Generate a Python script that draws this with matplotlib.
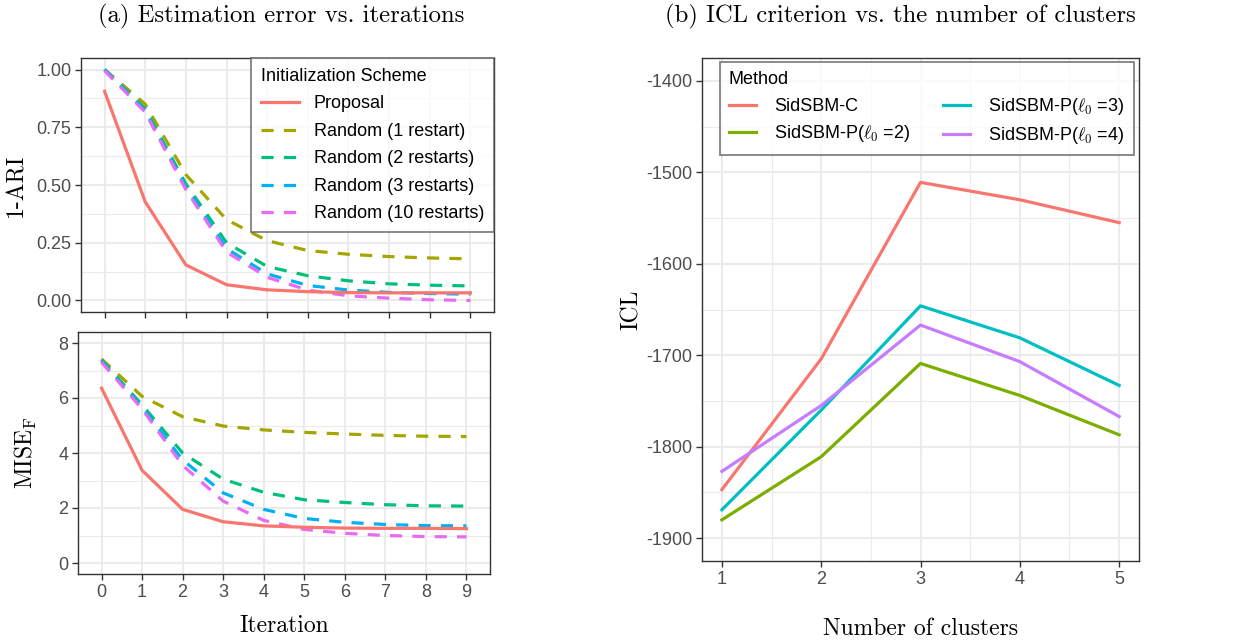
import matplotlib
matplotlib.use("Agg")
import matplotlib.pyplot as plt
import numpy as np

plt.rcParams["font.family"] = ["Liberation Sans", "DejaVu Sans"]
plt.rcParams["mathtext.fontset"] = "cm"
plt.rcParams["axes.unicode_minus"] = False

# ---- data: estimation error vs. iterations ----
iterations = [0, 1, 2, 3, 4, 5, 6, 7, 8, 9]
schemes = ["Proposal", "Random (1 restart)", "Random (2 restarts)",
           "Random (3 restarts)", "Random (10 restarts)"]
ari_err = {
    "Proposal":             [0.906, 0.427, 0.154, 0.068, 0.046, 0.038, 0.034, 0.033, 0.033, 0.033],
    "Random (1 restart)":   [1.000, 0.850, 0.545, 0.350, 0.259, 0.216, 0.200, 0.190, 0.184, 0.180],
    "Random (2 restarts)":  [1.000, 0.830, 0.505, 0.250, 0.147, 0.107, 0.085, 0.072, 0.066, 0.063],
    "Random (3 restarts)":  [1.000, 0.820, 0.490, 0.225, 0.115, 0.065, 0.045, 0.035, 0.030, 0.027],
    "Random (10 restarts)": [0.995, 0.815, 0.480, 0.210, 0.100, 0.045, 0.020, 0.010, 0.003, 0.000],
}
mise_err = {
    "Proposal":             [6.36, 3.37, 1.95, 1.50, 1.35, 1.30, 1.27, 1.26, 1.26, 1.25],
    "Random (1 restart)":   [7.42, 6.06, 5.32, 4.98, 4.84, 4.75, 4.69, 4.64, 4.61, 4.60],
    "Random (2 restarts)":  [7.38, 5.75, 4.00, 3.05, 2.57, 2.30, 2.20, 2.12, 2.08, 2.07],
    "Random (3 restarts)":  [7.35, 5.65, 3.75, 2.55, 1.95, 1.62, 1.48, 1.40, 1.36, 1.35],
    "Random (10 restarts)": [7.30, 5.60, 3.55, 2.25, 1.55, 1.22, 1.08, 1.00, 0.96, 0.95],
}
scheme_colors = ["#F8766D", "#A3A500", "#00BF7D", "#00B0F6", "#E76BF3"]

# ---- data: ICL vs. number of clusters ----
clusters = [1, 2, 3, 4, 5]
methods = ["SidSBM-C", r"SidSBM-P($\ell_0$ =2)", r"SidSBM-P($\ell_0$ =3)", r"SidSBM-P($\ell_0$ =4)"]
icl = {
    methods[0]: [-1847, -1704, -1511, -1530, -1555],
    methods[1]: [-1880, -1811, -1709, -1744, -1787],
    methods[2]: [-1869, -1760, -1646, -1681, -1733],
    methods[3]: [-1827, -1755, -1667, -1707, -1767],
}
method_colors = ["#F8766D", "#7CAE00", "#00BFC4", "#C77CFF"]

TICK_FS = 13
SERIF = "cmr10"
LW = 2.3


def theme_bw(ax, xmajor, xminor, ymajor, yminor):
    ax.set_facecolor("white")
    for s in ax.spines.values():
        s.set_color("#333333")
        s.set_linewidth(1.0)
    ax.set_xticks(xmajor)
    ax.set_xticks(xminor, minor=True)
    ax.set_yticks(ymajor)
    ax.set_yticks(yminor, minor=True)
    ax.grid(which="major", color="#EBEBEB", linewidth=1.5)
    ax.grid(which="minor", color="#EBEBEB", linewidth=0.8)
    ax.set_axisbelow(True)
    ax.tick_params(which="major", direction="out", length=4, width=1.0,
                   color="#333333", labelcolor="#4D4D4D", labelsize=TICK_FS, pad=3)
    ax.tick_params(which="minor", length=0)


fig = plt.figure(figsize=(12.43, 6.4), dpi=100)

ax1 = fig.add_axes([81 / 1243, 1 - 312 / 640, 413 / 1243, 254 / 640])
ax2 = fig.add_axes([78 / 1243, 1 - 574 / 640, 412 / 1243, 242 / 640])
ax3 = fig.add_axes([702 / 1243, 1 - 561 / 640, 437 / 1243, 503 / 640])

# 1-ARI panel
for name, c in zip(schemes, scheme_colors):
    if name == "Proposal":
        ax1.plot(iterations, ari_err[name], color=c, lw=LW, label=name, zorder=3)
    else:
        ax1.plot(iterations, ari_err[name], color=c, lw=LW, dashes=(3.8, 3.2), label=name)
theme_bw(ax1, iterations, [], [0, 0.25, 0.5, 0.75, 1.0], [0.125, 0.375, 0.625, 0.875])
ax1.set_xlim(-0.58, 9.58)
ax1.set_ylim(-0.05, 1.05)
ax1.set_yticklabels(["0.00", "0.25", "0.50", "0.75", "1.00"])
ax1.set_xticklabels([])
ax1.set_ylabel("1-ARI", family=SERIF, fontsize=17, labelpad=6)
leg1 = ax1.legend(title="Initialization Scheme", loc="upper right", bbox_to_anchor=(1.0, 1.0),
                  borderaxespad=0, fontsize=13, title_fontsize=13, handlelength=2.1,
                  labelspacing=0.58, handletextpad=0.8, borderpad=0.55,
                  fancybox=False, edgecolor="#555555", alignment="left")
leg1.get_frame().set_linewidth(1.2)
leg1.set_zorder(5)

# MISE panel
for name, c in zip(schemes, scheme_colors):
    if name == "Proposal":
        ax2.plot(iterations, mise_err[name], color=c, lw=LW, zorder=3)
    else:
        ax2.plot(iterations, mise_err[name], color=c, lw=LW, dashes=(3.8, 3.2))
theme_bw(ax2, iterations, [], [0, 2, 4, 6, 8], [1, 3, 5, 7])
ax2.set_xlim(-0.58, 9.58)
ax2.set_ylim(-0.4, 8.4)
ax2.set_xticklabels([str(i) for i in iterations])
ax2.set_ylabel(r"$\mathrm{MISE}_\mathrm{F}$", fontsize=17, labelpad=14)
ax2.set_xlabel("Iteration", family=SERIF, fontsize=17, labelpad=10)

# ICL panel
for name, c in zip(methods, method_colors):
    ax3.plot(clusters, icl[name], color=c, lw=LW, label=name)
theme_bw(ax3, clusters, [1.5, 2.5, 3.5, 4.5],
         [-1900, -1800, -1700, -1600, -1500, -1400],
         [-1850, -1750, -1650, -1550, -1450])
ax3.set_xlim(0.8, 5.2)
ax3.set_ylim(-1925, -1375)
ax3.set_yticklabels(["-1900", "-1800", "-1700", "-1600", "-1500", "-1400"])
ax3.set_ylabel("ICL", family=SERIF, fontsize=17, labelpad=2)
ax3.set_xlabel("Number of clusters", family=SERIF, fontsize=17, labelpad=22)
leg3 = ax3.legend(title="Method", loc="upper left", bbox_to_anchor=(0.041, 0.992),
                  borderaxespad=0, ncol=2, fontsize=13, title_fontsize=13,
                  handlelength=1.5, columnspacing=1.8, labelspacing=0.45,
                  handletextpad=1.0, borderpad=0.5, fancybox=False,
                  edgecolor="#555555", alignment="left")
leg3.get_frame().set_linewidth(1.2)

fig.text(281 / 1243, 1 - 16 / 640, "(a) Estimation error vs. iterations",
         family=SERIF, fontsize=17.8, ha="center", va="center")
fig.text(900 / 1243, 1 - 16 / 640, "(b) ICL criterion vs. the number of clusters",
         family=SERIF, fontsize=17.8, ha="center", va="center")

fig.savefig("out.png", dpi=100)
